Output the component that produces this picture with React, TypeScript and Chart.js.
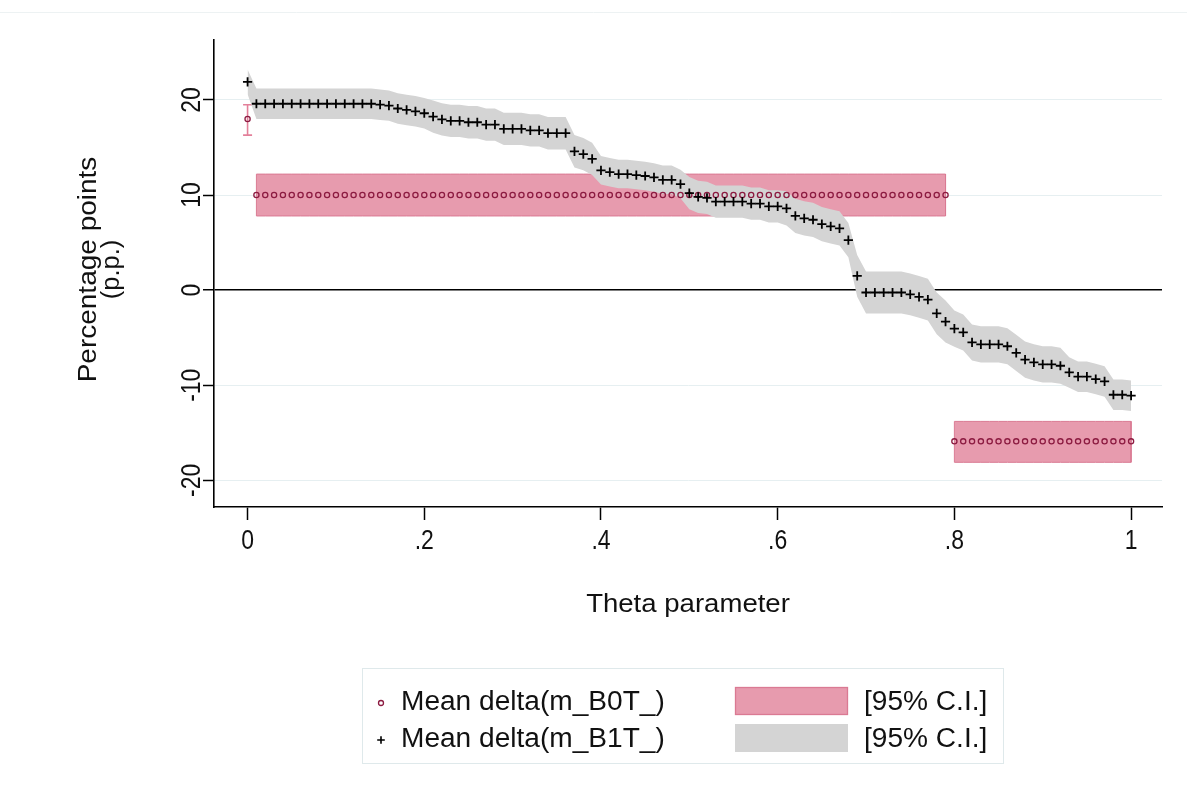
import React, { useEffect, useRef } from 'react';
import { Chart, registerables } from 'chart.js';

Chart.register(...registerables);

// ---------- data ----------
const theta = [
  0, 0.01, 0.02, 0.03, 0.04, 0.05, 0.06, 0.07, 0.08, 0.09,
  0.1, 0.11, 0.12, 0.13, 0.14, 0.15, 0.16, 0.17, 0.18, 0.19,
  0.2, 0.21, 0.22, 0.23, 0.24, 0.25, 0.26, 0.27, 0.28, 0.29,
  0.3, 0.31, 0.32, 0.33, 0.34, 0.35, 0.36, 0.37, 0.38, 0.39,
  0.4, 0.41, 0.42, 0.43, 0.44, 0.45, 0.46, 0.47, 0.48, 0.49,
  0.5, 0.51, 0.52, 0.53, 0.54, 0.55, 0.56, 0.57, 0.58, 0.59,
  0.6, 0.61, 0.62, 0.63, 0.64, 0.65, 0.66, 0.67, 0.68, 0.69,
  0.7, 0.71, 0.72, 0.73, 0.74, 0.75, 0.76, 0.77, 0.78, 0.79,
  0.8, 0.81, 0.82, 0.83, 0.84, 0.85, 0.86, 0.87, 0.88, 0.89,
  0.9, 0.91, 0.92, 0.93, 0.94, 0.95, 0.96, 0.97, 0.98, 0.99,
  1,
];

// Mean delta(m_B0T_)
const b0Mean = [
  18,
  10, 10, 10, 10, 10, 10, 10, 10, 10, 10,
  10, 10, 10, 10, 10, 10, 10, 10, 10, 10,
  10, 10, 10, 10, 10, 10, 10, 10, 10, 10,
  10, 10, 10, 10, 10, 10, 10, 10, 10, 10,
  10, 10, 10, 10, 10, 10, 10, 10, 10, 10,
  10, 10, 10, 10, 10, 10, 10, 10, 10, 10,
  10, 10, 10, 10, 10, 10, 10, 10, 10, 10,
  10, 10, 10, 10, 10, 10, 10, 10, 10,
  -15.9, -15.9, -15.9, -15.9, -15.9, -15.9, -15.9, -15.9, -15.9, -15.9,
  -15.9, -15.9, -15.9, -15.9, -15.9, -15.9, -15.9, -15.9, -15.9, -15.9,
  -15.9,
];
const b0Lo = [
  16.3,
  7.8, 7.8, 7.8, 7.8, 7.8, 7.8, 7.8, 7.8, 7.8, 7.8,
  7.8, 7.8, 7.8, 7.8, 7.8, 7.8, 7.8, 7.8, 7.8, 7.8,
  7.8, 7.8, 7.8, 7.8, 7.8, 7.8, 7.8, 7.8, 7.8, 7.8,
  7.8, 7.8, 7.8, 7.8, 7.8, 7.8, 7.8, 7.8, 7.8, 7.8,
  7.8, 7.8, 7.8, 7.8, 7.8, 7.8, 7.8, 7.8, 7.8, 7.8,
  7.8, 7.8, 7.8, 7.8, 7.8, 7.8, 7.8, 7.8, 7.8, 7.8,
  7.8, 7.8, 7.8, 7.8, 7.8, 7.8, 7.8, 7.8, 7.8, 7.8,
  7.8, 7.8, 7.8, 7.8, 7.8, 7.8, 7.8, 7.8, 7.8,
  -18.1, -18.1, -18.1, -18.1, -18.1, -18.1, -18.1, -18.1, -18.1, -18.1,
  -18.1, -18.1, -18.1, -18.1, -18.1, -18.1, -18.1, -18.1, -18.1, -18.1,
  -18.1,
];
const b0Hi = [
  19.5,
  12.2, 12.2, 12.2, 12.2, 12.2, 12.2, 12.2, 12.2, 12.2, 12.2,
  12.2, 12.2, 12.2, 12.2, 12.2, 12.2, 12.2, 12.2, 12.2, 12.2,
  12.2, 12.2, 12.2, 12.2, 12.2, 12.2, 12.2, 12.2, 12.2, 12.2,
  12.2, 12.2, 12.2, 12.2, 12.2, 12.2, 12.2, 12.2, 12.2, 12.2,
  12.2, 12.2, 12.2, 12.2, 12.2, 12.2, 12.2, 12.2, 12.2, 12.2,
  12.2, 12.2, 12.2, 12.2, 12.2, 12.2, 12.2, 12.2, 12.2, 12.2,
  12.2, 12.2, 12.2, 12.2, 12.2, 12.2, 12.2, 12.2, 12.2, 12.2,
  12.2, 12.2, 12.2, 12.2, 12.2, 12.2, 12.2, 12.2, 12.2,
  -13.8, -13.8, -13.8, -13.8, -13.8, -13.8, -13.8, -13.8, -13.8, -13.8,
  -13.8, -13.8, -13.8, -13.8, -13.8, -13.8, -13.8, -13.8, -13.8, -13.8,
  -13.8,
];
// index ranges of the two B0T confidence bands (the first point has a cap bar)
const b0BandRanges = [[1, 79], [80, 100]];

// Mean delta(m_B1T_)
const b1Mean = [
  21.9,
  19.6, 19.6, 19.6, 19.6, 19.6, 19.6, 19.6, 19.6, 19.6, 19.6,
  19.6, 19.6, 19.6, 19.6, 19.5, 19.4, 19.1, 18.95, 18.8, 18.6,
  18.25, 17.95, 17.8, 17.8, 17.65, 17.65, 17.4, 17.4, 16.95, 16.95,
  16.95, 16.8, 16.8, 16.5, 16.5, 16.5, 14.6, 14.3, 13.8, 12.6,
  12.4, 12.2, 12.2, 12.1, 12.0, 11.85, 11.6, 11.6, 11.15, 10.2,
  9.8, 9.7, 9.3, 9.3, 9.3, 9.3, 9.1, 9.1, 8.8, 8.8,
  8.6, 7.8, 7.55, 7.4, 6.95, 6.7, 6.5, 5.25, 1.5, -0.25,
  -0.25, -0.25, -0.25, -0.25, -0.45, -0.7, -1.0, -2.45, -3.3, -4.05,
  -4.45, -5.5, -5.7, -5.7, -5.7, -5.9, -6.6, -7.3, -7.6, -7.8,
  -7.8, -7.95, -8.65, -9.1, -9.1, -9.35, -9.6, -11.0, -11.0, -11.1,
];
// half-width of the B1T 95% C.I.
const b1Half = [
  1.3,
  1.6, 1.6, 1.6, 1.6, 1.6, 1.6, 1.6, 1.6, 1.6, 1.6,
  1.6, 1.6, 1.6, 1.6, 1.6, 1.6, 1.6, 1.6, 1.6, 1.6,
  1.7, 1.7, 1.7, 1.7, 1.7, 1.7, 1.7, 1.7, 1.7, 1.7,
  1.7, 1.7, 1.7, 1.7, 1.7, 1.7, 1.7, 1.7, 1.7, 1.5,
  1.5, 1.5, 1.5, 1.5, 1.5, 1.5, 1.5, 1.5, 1.5, 1.7,
  1.7, 1.7, 1.7, 1.7, 1.7, 1.7, 1.7, 1.7, 1.7, 1.7,
  1.8, 1.8, 1.8, 1.8, 1.8, 1.8, 1.8, 1.8, 2.2, 2.2,
  2.2, 2.2, 2.2, 2.2, 2.2, 2.2, 2.2, 2.2, 2.2, 1.9,
  1.9, 1.9, 1.9, 1.9, 1.9, 1.9, 1.9, 1.9, 1.9, 1.9,
  1.9, 1.9, 1.6, 1.6, 1.6, 1.6, 1.6, 1.6, 1.6, 1.6,
];

const xTicks = [0, 0.2, 0.4, 0.6, 0.8, 1];
const xTickLabels = ['0', '.2', '.4', '.6', '.8', '1'];
const yTicks = [-20, -10, 0, 10, 20];
const yTickLabels = ['-20', '-10', '0', '10', '20'];

const xTitle = 'Theta parameter';
const yTitle = ['Percentage points', '(p.p.)'];
const legendLabels = ['Mean delta(m_B0T_)', 'Mean delta(m_B1T_)', '[95% C.I.]'];

// ---------- styles ----------
const PINK = '#e79bae';
const PINK_EDGE = '#da7a93';
const PINK_CAP = '#e3809a';
const MAROON = '#8c1b41';
const GREY = '#d4d4d4';
const GRID = '#e6eff1';
const FONT = '"Liberation Sans", Arial, sans-serif';

function drawText(
  ctx: CanvasRenderingContext2D,
  text: string,
  x: number,
  y: number,
  size: number,
  hScale: number,
  rot: number,
  align: CanvasTextAlign
) {
  ctx.save();
  ctx.translate(x, y);
  ctx.rotate(rot);
  ctx.scale(hScale, 1);
  ctx.font = `${size}px ${FONT}`;
  ctx.textAlign = align;
  ctx.textBaseline = 'middle';
  ctx.fillStyle = '#111';
  ctx.fillText(text, 0, 0);
  ctx.restore();
}

function drawPlus(ctx: CanvasRenderingContext2D, x: number, y: number, r: number, w: number) {
  ctx.save();
  ctx.strokeStyle = '#000';
  ctx.lineWidth = w;
  ctx.beginPath();
  ctx.moveTo(x - r, y);
  ctx.lineTo(x + r, y);
  ctx.moveTo(x, y - r);
  ctx.lineTo(x, y + r);
  ctx.stroke();
  ctx.restore();
}

const decorPlugin = {
  id: 'decor',
  beforeDatasetsDraw(chart: any) {
    const ctx = chart.ctx as CanvasRenderingContext2D;
    const xs = chart.scales.x;
    const ys = chart.scales.y;
    // cap bar for the isolated first B0T estimate
    const x = xs.getPixelForValue(theta[0]);
    const y1 = ys.getPixelForValue(b0Lo[0]);
    const y2 = ys.getPixelForValue(b0Hi[0]);
    ctx.save();
    ctx.strokeStyle = PINK_CAP;
    ctx.lineWidth = 1.6;
    ctx.beginPath();
    ctx.moveTo(x, y1);
    ctx.lineTo(x, y2);
    ctx.moveTo(x - 4.5, y1);
    ctx.lineTo(x + 4.5, y1);
    ctx.moveTo(x - 4.5, y2);
    ctx.lineTo(x + 4.5, y2);
    ctx.stroke();
    ctx.restore();
  },
  afterDraw(chart: any) {
    const ctx = chart.ctx as CanvasRenderingContext2D;
    const xs = chart.scales.x;
    const ys = chart.scales.y;
    const area = chart.chartArea;

    // faint frame line at top
    ctx.save();
    ctx.strokeStyle = '#edf2f3';
    ctx.lineWidth = 1;
    ctx.beginPath();
    ctx.moveTo(0, 12.5);
    ctx.lineTo(chart.width, 12.5);
    ctx.stroke();
    ctx.restore();

    // y tick labels (rotated)
    yTicks.forEach((v, i) => {
      drawText(ctx, yTickLabels[i], 192, ys.getPixelForValue(v), 28, 0.82, -Math.PI / 2, 'center');
    });
    // x tick labels
    xTicks.forEach((v, i) => {
      drawText(ctx, xTickLabels[i], xs.getPixelForValue(v), 541, 28, 0.82, 0, 'center');
    });
    // axis titles
    const cy = (area.top + area.bottom) / 2;
    drawText(ctx, yTitle[0], 89, cy - 4, 25, 1.12, -Math.PI / 2, 'center');
    drawText(ctx, yTitle[1], 112, cy - 4, 25, 1.02, -Math.PI / 2, 'center');
    drawText(ctx, xTitle, (area.left + area.right) / 2, 605, 26, 1.06, 0, 'center');

    // legend
    ctx.save();
    ctx.strokeStyle = '#dfe9eb';
    ctx.lineWidth = 1;
    ctx.strokeRect(362.5, 668.5, 641, 95);
    // row 1
    ctx.beginPath();
    ctx.arc(381, 703, 2.5, 0, Math.PI * 2);
    ctx.strokeStyle = MAROON;
    ctx.lineWidth = 1.3;
    ctx.stroke();
    ctx.fillStyle = PINK;
    ctx.fillRect(735, 687, 113, 28);
    ctx.strokeStyle = PINK_EDGE;
    ctx.strokeRect(735.5, 687.5, 112, 27);
    // row 2
    ctx.fillStyle = GREY;
    ctx.fillRect(735, 724, 113, 28);
    ctx.restore();
    drawPlus(ctx, 381, 740, 3.8, 1.6);
    drawText(ctx, legendLabels[0], 401, 703, 27, 1.04, 0, 'left');
    drawText(ctx, legendLabels[1], 401, 740, 27, 1.04, 0, 'left');
    drawText(ctx, legendLabels[2], 864, 703, 27, 1.04, 0, 'left');
    drawText(ctx, legendLabels[2], 864, 740, 27, 1.04, 0, 'left');
  },
};

function App() {
  const ref = useRef<HTMLCanvasElement>(null);

  useEffect(() => {
    document.body.style.margin = '0';
    const canvas = ref.current;
    if (!canvas) return;

    const datasets: any[] = [];

    // B0T confidence bands (pink)
    b0BandRanges.forEach(([a, b]) => {
      const lower: any[] = [];
      const upper: any[] = [];
      for (let i = a; i <= b; i++) lower.push({ x: theta[i], y: b0Lo[i] });
      upper.push({ x: theta[a], y: b0Lo[a] });
      for (let i = a; i <= b; i++) upper.push({ x: theta[i], y: b0Hi[i] });
      upper.push({ x: theta[b], y: b0Lo[b] });
      datasets.push({
        type: 'line',
        data: lower,
        borderColor: PINK_EDGE,
        borderWidth: 1,
        pointRadius: 0,
        fill: false,
        tension: 0,
        order: 10,
      });
      datasets.push({
        type: 'line',
        data: upper,
        borderColor: PINK_EDGE,
        borderWidth: 1,
        backgroundColor: PINK,
        pointRadius: 0,
        fill: '-1',
        tension: 0,
        order: 10,
      });
    });

    // B1T confidence band (grey)
    datasets.push({
      type: 'line',
      data: theta.map((t, i) => ({ x: t, y: b1Mean[i] - b1Half[i] })),
      borderColor: 'rgba(0,0,0,0)',
      borderWidth: 0,
      pointRadius: 0,
      fill: false,
      tension: 0,
      order: 5,
    });
    datasets.push({
      type: 'line',
      data: theta.map((t, i) => ({ x: t, y: b1Mean[i] + b1Half[i] })),
      borderColor: 'rgba(0,0,0,0)',
      borderWidth: 0,
      backgroundColor: GREY,
      pointRadius: 0,
      fill: '-1',
      tension: 0,
      order: 5,
    });

    // B0T points
    datasets.push({
      type: 'scatter',
      data: theta.map((t, i) => ({ x: t, y: b0Mean[i] })),
      pointStyle: 'circle',
      pointRadius: 2.6,
      pointBorderColor: MAROON,
      pointBackgroundColor: 'rgba(0,0,0,0)',
      pointBorderWidth: 1.3,
      showLine: false,
      order: 2,
    });
    // B1T points
    datasets.push({
      type: 'scatter',
      data: theta.map((t, i) => ({ x: t, y: b1Mean[i] })),
      pointStyle: 'cross',
      pointRadius: 4.6,
      pointBorderColor: '#000',
      pointBorderWidth: 1.8,
      showLine: false,
      order: 1,
    });

    const chart = new Chart(canvas, {
      type: 'scatter',
      data: { datasets },
      options: {
        animation: false,
        responsive: false,
        devicePixelRatio: 1,
        events: [],
        layout: { padding: { top: 40, right: 25, left: 0, bottom: 0 } },
        plugins: {
          legend: { display: false },
          tooltip: { enabled: false },
          title: { display: false },
        },
        scales: {
          x: {
            type: 'linear',
            min: -0.038,
            max: 1.035,
            afterBuildTicks: (s: any) => {
              s.ticks = xTicks.map((v) => ({ value: v }));
            },
            afterFit: (s: any) => {
              s.height = 286;
            },
            ticks: { display: false },
            grid: {
              drawOnChartArea: false,
              drawTicks: true,
              tickLength: 13,
              tickColor: '#000',
              tickWidth: 1.5,
            },
            border: { display: true, color: '#000', width: 1.6 },
          },
          y: {
            type: 'linear',
            min: -22.8,
            max: 26.3,
            afterBuildTicks: (s: any) => {
              s.ticks = yTicks.map((v) => ({ value: v }));
            },
            afterFit: (s: any) => {
              s.width = 214;
            },
            ticks: { display: false },
            grid: {
              color: (c: any) => (c.tick && c.tick.value === 0 ? '#000' : GRID),
              lineWidth: (c: any) => (c.tick && c.tick.value === 0 ? 1.5 : 1),
              drawTicks: true,
              tickLength: 11,
              tickColor: '#000',
              tickWidth: 1.5,
            },
            border: { display: true, color: '#000', width: 1.6 },
          },
        },
      } as any,
      plugins: [decorPlugin],
    });

    return () => chart.destroy();
  }, []);

  return (
    <div style={{ width: 1187, height: 793, background: '#fff' }}>
      <canvas ref={ref} width={1187} height={793} style={{ display: 'block' }} />
    </div>
  );
}

export default App;
